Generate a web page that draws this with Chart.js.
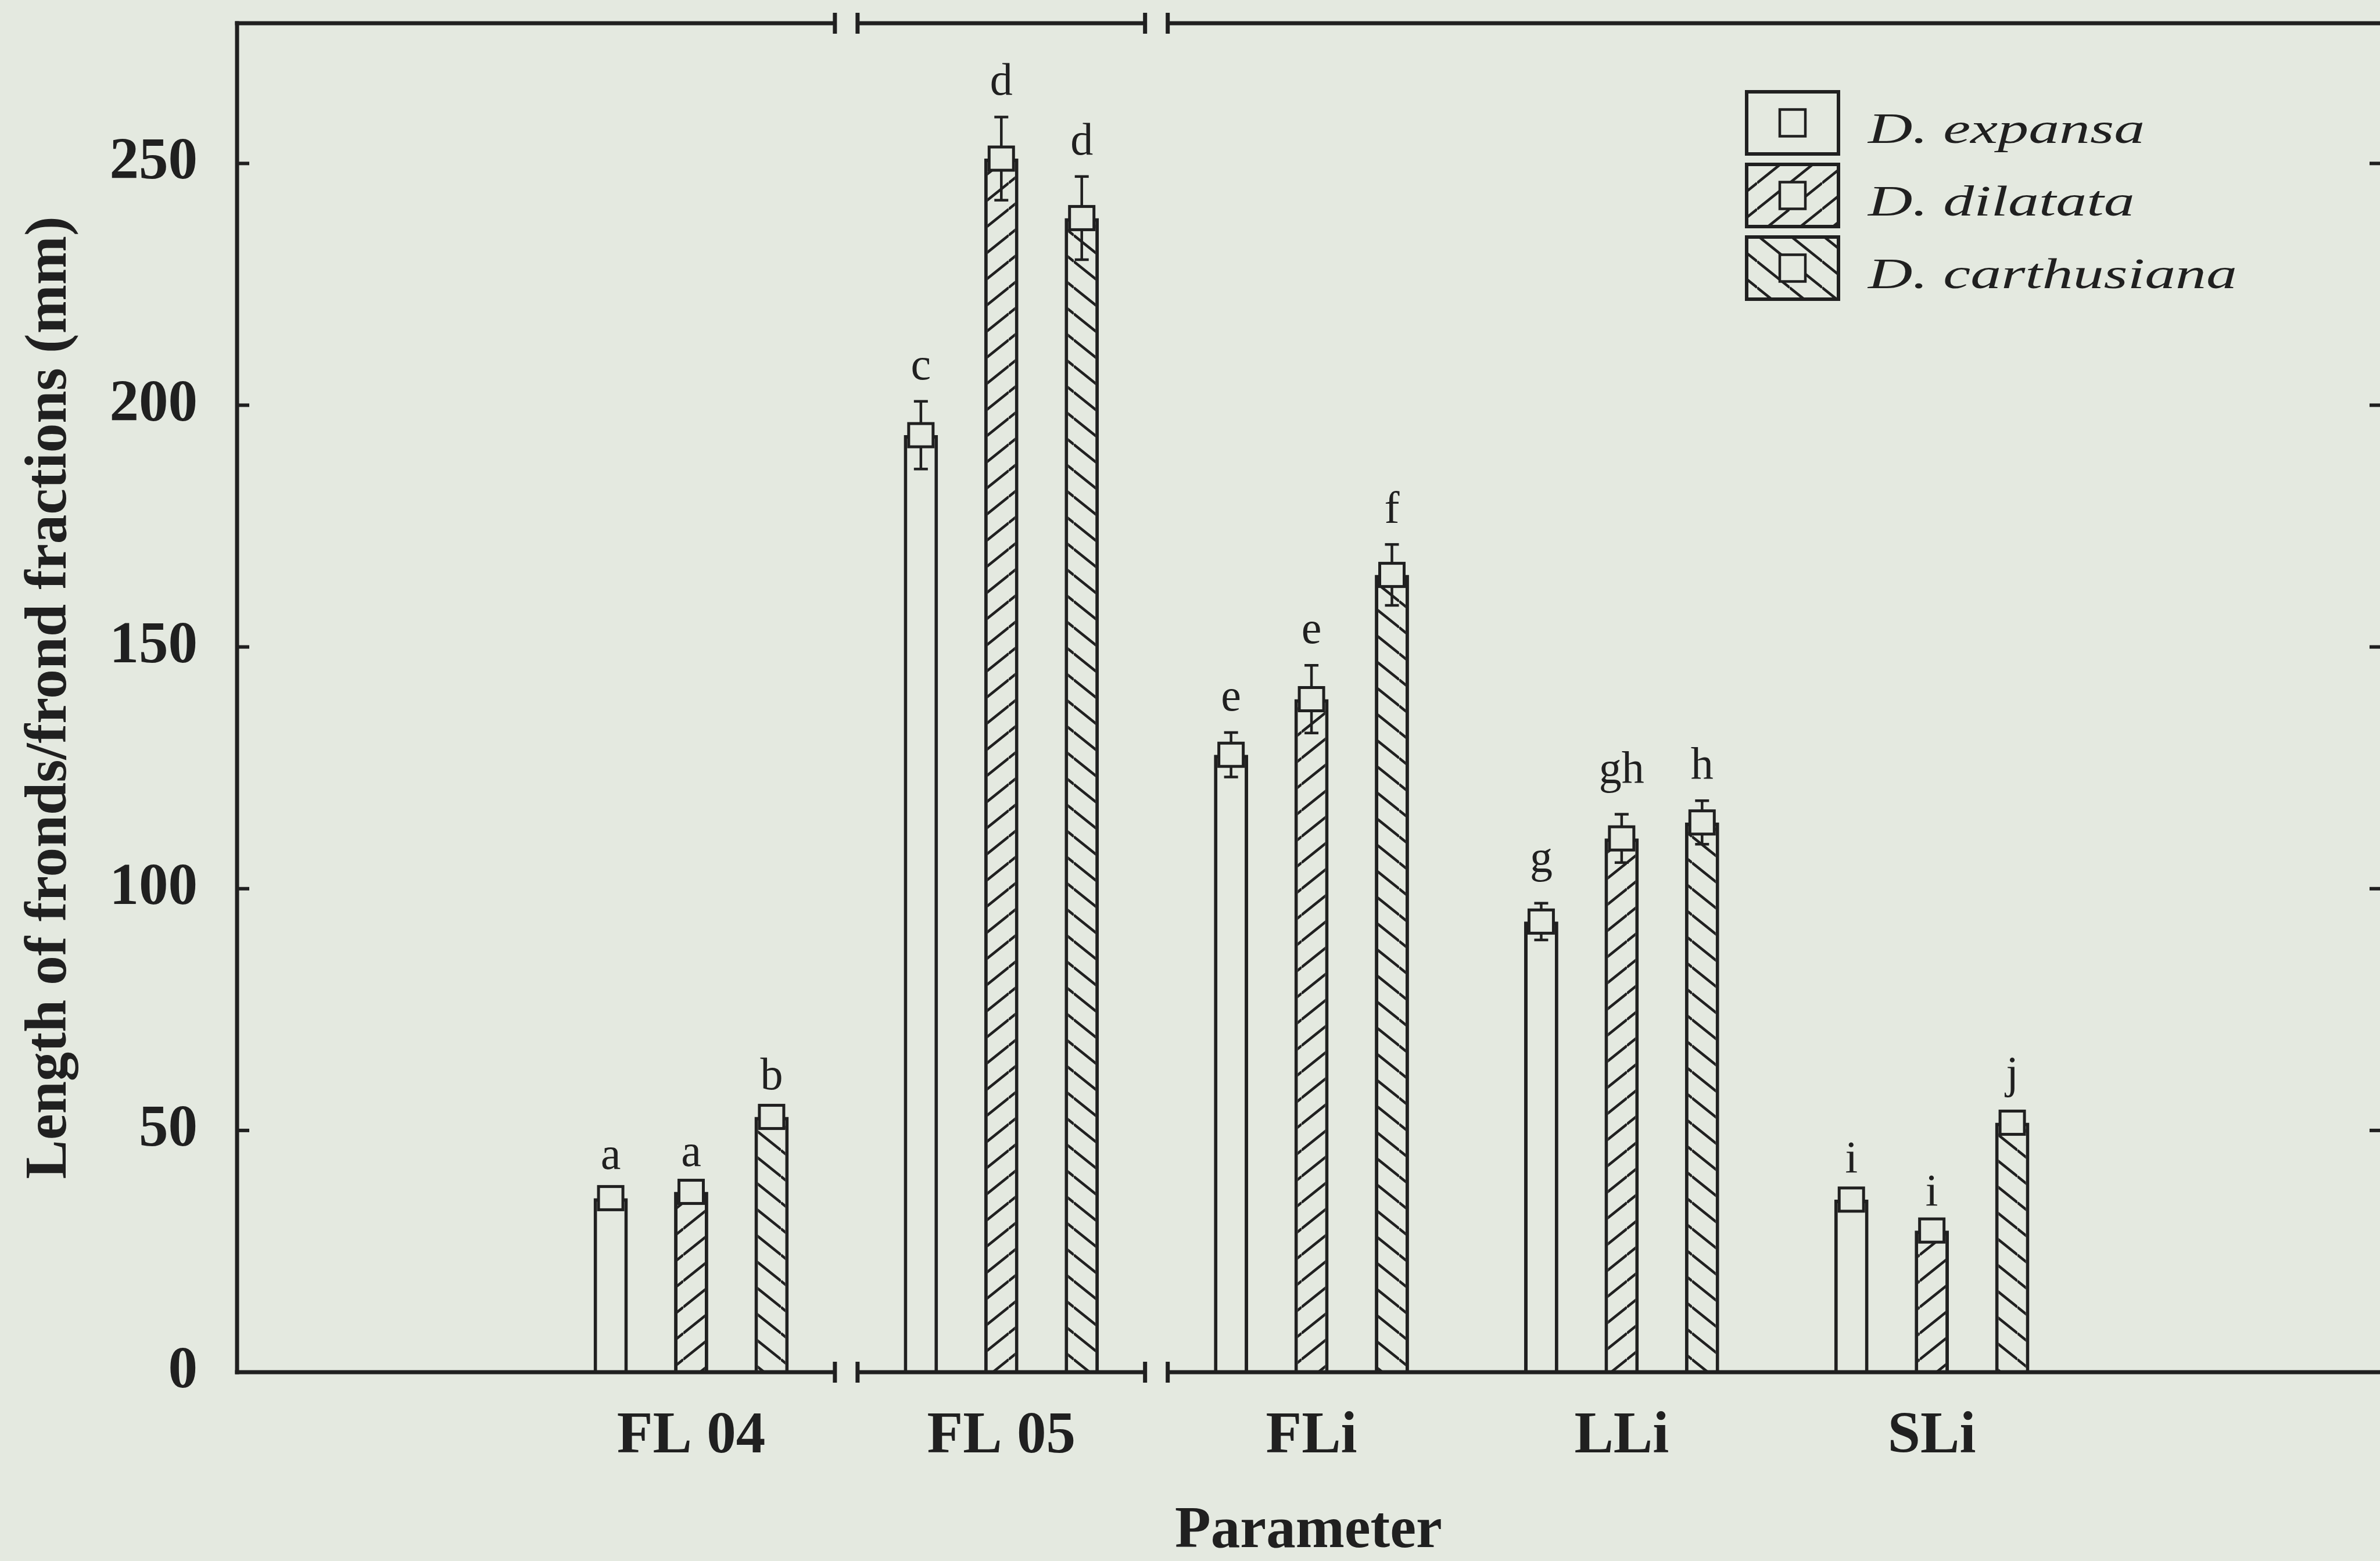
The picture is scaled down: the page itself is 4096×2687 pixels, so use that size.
<!DOCTYPE html>
<html>
<head>
<meta charset="utf-8">
<script src="https://cdn.jsdelivr.net/npm/chart.js@4.4.1/dist/chart.umd.min.js"></script>
<style>
  html, body { margin: 0; padding: 0; background: #e4e9e0; }
  #wrap { width: 4096px; height: 2687px; }
</style>
</head>
<body>
<div id="wrap"><canvas id="chart"></canvas></div>
<script>
  // --- Data ---
  const categories = ['FL 04', 'FL 05', 'FLi', 'LLi', 'SLi'];
  const speciesNames = ['D. expansa', 'D. dilatata', 'D. carthusiana'];

  const expansaMean = [36.0, 193.8, 127.7, 93.2, 35.7];
  const expansaSE = [1.5, 7.0, 4.6, 3.8, 1.1];
  const expansaLetters = ['a', 'c', 'e', 'g', 'i'];

  const dilatataMean = [37.3, 251.0, 139.2, 110.4, 29.3];
  const dilatataSE = [0.8, 8.6, 7.0, 5.0, 0.6];
  const dilatataLetters = ['a', 'd', 'e', 'gh', 'i'];

  const carthusianaMean = [52.8, 238.7, 164.9, 113.7, 51.6];
  const carthusianaSE = [1.2, 8.6, 6.3, 4.5, 0.8];
  const carthusianaLetters = ['b', 'd', 'f', 'h', 'j'];

  const yTicks = [0, 50, 100, 150, 200, 250];
  const axisBreaks = [0.5, 1.5]; // between FL 04 / FL 05 and FL 05 / FLi

  // --- Styles ---
  const BG = '#e4e9e0';
  const INK = '#202020';
  const SERIF = '"Liberation Serif", "Times New Roman", serif';

  // Diagonal hatch pattern used for the bar fills
  function makeHatch(dir) {
    const w = 56, h = 45;
    const c = document.createElement('canvas');
    c.width = w; c.height = h;
    const g = c.getContext('2d');
    g.fillStyle = BG;
    g.fillRect(0, 0, w, h);
    g.strokeStyle = INK;
    g.lineWidth = 4.5;
    for (let k = -1; k <= 1; k++) {
      g.beginPath();
      if (dir === '/') { g.moveTo(0, h + k * h); g.lineTo(w, k * h); }
      else { g.moveTo(0, k * h); g.lineTo(w, h + k * h); }
      g.stroke();
    }
    return g.createPattern(c, 'repeat');
  }

  const means = [expansaMean, dilatataMean, carthusianaMean];
  const errors = [expansaSE, dilatataSE, carthusianaSE];
  const letters = [expansaLetters, dilatataLetters, carthusianaLetters];
  const fills = [BG, makeHatch('/'), makeHatch('\\')];

  function line(ctx, x1, y1, x2, y2) {
    ctx.beginPath();
    ctx.moveTo(x1, y1);
    ctx.lineTo(x2, y2);
    ctx.stroke();
  }

  // --- Plugin: error bars, mean squares, letters, frame, legend ---
  const decorPlugin = {
    id: 'decor',
    afterDatasetsDraw(chart) {
      const ctx = chart.ctx;
      const y = chart.scales.y;
      ctx.save();
      means.forEach((arr, d) => {
        const meta = chart.getDatasetMeta(d);
        meta.data.forEach((bar, i) => {
          const cx = bar.x;
          const yMid = y.getPixelForValue(arr[i]);
          const yHi = y.getPixelForValue(arr[i] + errors[d][i]);
          const yLo = y.getPixelForValue(arr[i] - errors[d][i]);

          // whisker
          ctx.strokeStyle = INK;
          ctx.lineWidth = 4.5;
          line(ctx, cx, yHi, cx, yLo);
          line(ctx, cx - 12, yHi, cx + 12, yHi);
          line(ctx, cx - 12, yLo, cx + 12, yLo);

          // mean square
          ctx.fillStyle = BG;
          ctx.fillRect(cx - 21, yMid - 20, 42, 40);
          ctx.lineWidth = 5;
          ctx.strokeRect(cx - 21, yMid - 20, 42, 40);

          // significance letter
          const txt = letters[d][i];
          ctx.font = '78px ' + SERIF;
          ctx.fillStyle = INK;
          ctx.textAlign = 'center';
          ctx.textBaseline = 'alphabetic';
          const desc = Math.max(0, ctx.measureText(txt).actualBoundingBoxDescent);
          ctx.fillText(txt, cx, yHi - 37 - desc);
        });
      });
      ctx.restore();
    },
    afterDraw(chart) {
      const { ctx, chartArea: a, scales: { x, y } } = chart;
      ctx.save();
      ctx.strokeStyle = INK;
      ctx.lineWidth = 7;

      // left axis
      line(ctx, a.left, a.top - 3.5, a.left, a.bottom + 3.5);

      // top and bottom lines with axis breaks
      const half = 19.5;
      const gaps = axisBreaks.map(b => x.getPixelForValue(b));
      [a.top, a.bottom].forEach(yy => {
        let start = a.left - 3.5;
        gaps.forEach(gx => {
          line(ctx, start, yy, gx - half, yy);
          line(ctx, gx - half, yy - 18, gx - half, yy + 18);
          start = gx + half;
          line(ctx, start, yy - 18, start, yy + 18);
        });
        line(ctx, start, yy, a.right, yy);
      });

      // inward tick marks, both sides
      ctx.lineWidth = 6;
      yTicks.forEach(v => {
        if (v === 0) return;
        const p = y.getPixelForValue(v);
        line(ctx, a.left, p, a.left + 21, p);
        line(ctx, a.right - 18, p, a.right, p);
      });

      // legend
      const LEG = { x: 3006, y: 158, w: 158, h: 107, pitch: 125, textX: 3215, size: 74, stretch: 1.43 };
      speciesNames.forEach((name, d) => {
        const top = LEG.y + d * LEG.pitch;
        ctx.fillStyle = fills[d];
        ctx.fillRect(LEG.x, top, LEG.w, LEG.h);
        ctx.lineWidth = 6;
        ctx.strokeRect(LEG.x, top, LEG.w, LEG.h);
        const sx = LEG.x + LEG.w / 2 - 22, sy = top + LEG.h / 2 - 23;
        ctx.fillStyle = BG;
        ctx.fillRect(sx, sy, 44, 46);
        ctx.lineWidth = 4.5;
        ctx.strokeRect(sx, sy, 44, 46);

        ctx.save();
        ctx.translate(LEG.textX, top + 88);
        ctx.scale(LEG.stretch, 1);
        ctx.font = 'italic ' + LEG.size + 'px ' + SERIF;
        ctx.fillStyle = INK;
        ctx.textAlign = 'left';
        ctx.textBaseline = 'alphabetic';
        ctx.fillText(name, 0, 0);
        ctx.restore();
      });
      ctx.restore();
    }
  };

  // --- Chart ---
  const labelFont = { family: SERIF, size: 101, weight: 'bold', lineHeight: 1 };

  new Chart(document.getElementById('chart'), {
    type: 'bar',
    data: {
      datasets: speciesNames.map((name, d) => ({
        label: name,
        data: means[d].map((v, i) => ({ x: i, y: v })),
        backgroundColor: fills[d],
        borderColor: INK,
        borderWidth: 6,
        categoryPercentage: 0.778,
        barPercentage: 0.425
      }))
    },
    options: {
      responsive: true,
      maintainAspectRatio: false,
      devicePixelRatio: 1,
      animation: false,
      layout: { padding: { top: 40, right: 0, bottom: 0, left: 0 } },
      plugins: { legend: { display: false }, tooltip: { enabled: false } },
      scales: {
        x: {
          type: 'linear',
          min: -1.464,
          max: 5.445,
          offset: false,
          grid: { display: false },
          border: { display: false },
          afterBuildTicks: scale => { scale.ticks = categories.map((_, i) => ({ value: i })); },
          afterFit: scale => { scale.height = 325; scale.paddingLeft = 0; scale.paddingRight = 0; },
          ticks: {
            autoSkip: false,
            maxRotation: 0,
            padding: 53,
            color: INK,
            font: labelFont,
            callback: v => categories[v] ?? ''
          },
          title: {
            display: true,
            text: 'Parameter',
            color: INK,
            font: labelFont,
            padding: { top: 0, bottom: 0 }
          }
        },
        y: {
          min: 0,
          max: 279,
          grid: { display: false },
          border: { display: false },
          afterFit: scale => { scale.width = 408; scale.paddingTop = 0; scale.paddingBottom = 0; },
          ticks: {
            stepSize: 50,
            includeBounds: false,
            padding: 60,
            color: INK,
            font: labelFont
          },
          title: {
            display: true,
            text: 'Length of fronds/frond fractions (mm)',
            color: INK,
            font: labelFont,
            padding: { top: 36, bottom: 0 }
          }
        }
      }
    },
    plugins: [decorPlugin]
  });
</script>
</body>
</html>
